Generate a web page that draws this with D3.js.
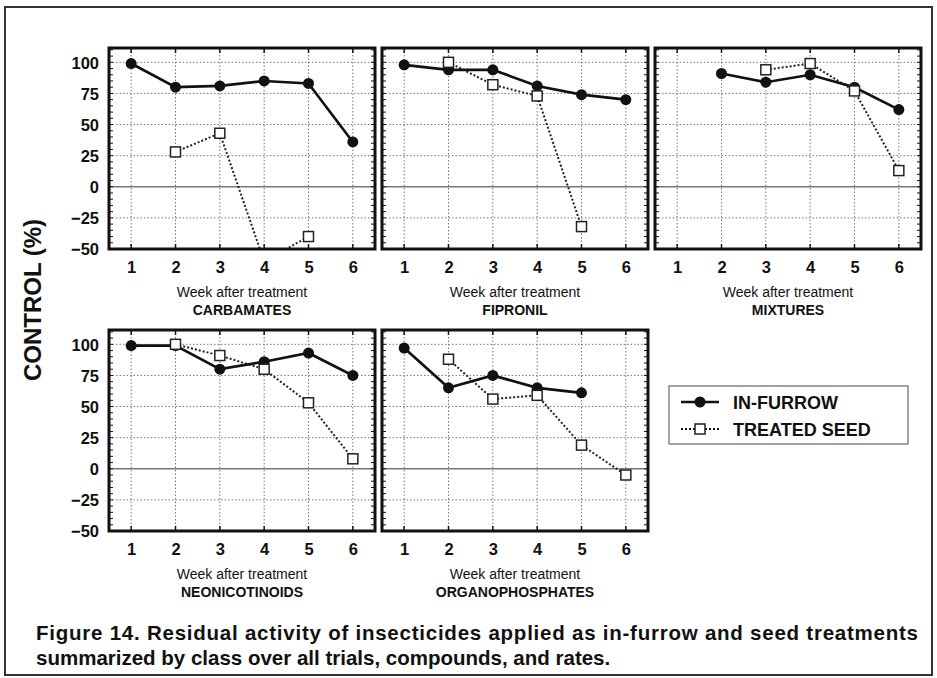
<!DOCTYPE html>
<html>
<head>
<meta charset="utf-8">
<script src="https://cdn.jsdelivr.net/npm/d3@7"></script>
<style>
  body { margin: 0; background: #fff; }
  svg { display: block; }
  text { font-family: "Liberation Sans", Arial, sans-serif; fill: #111; }
</style>
</head>
<body>
<div id="chart"></div>
<script>
// weeks after treatment and y ticks
const weeks = [1, 2, 3, 4, 5, 6];
const yTicks = [-50, -25, 0, 25, 50, 75, 100];
const classNames = ["CARBAMATES", "FIPRONIL", "MIXTURES", "NEONICOTINOIDS", "ORGANOPHOSPHATES"];

// control (%) per week, null = no data
const carbamatesFurrow = [99, 80, 81, 85, 83, 36];
const carbamatesSeed = [null, 28, 43, -60, -40, null];
const fipronilFurrow = [98, 94, 94, 81, 74, 70];
const fipronilSeed = [null, 100, 82, 73, -32, null];
const mixturesFurrow = [null, 91, 84, 90, 80, 62];
const mixturesSeed = [null, null, 94, 99, 77, 13];
const neonicFurrow = [99, 99, 80, 86, 93, 75];
const neonicSeed = [null, 100, 91, 80, 53, 8];
const organoFurrow = [97, 65, 75, 65, 61, null];
const organoSeed = [null, 88, 56, 59, 19, -5];

const legendLabels = ["IN-FURROW", "TREATED SEED"];

(function () {
    const W = 937, H = 678;
    const pw = 266, ph = 201;
    const colX = [109, 382, 655];
    const rowY = [48, 330];

    const panels = [
        { name: classNames[0], furrow: carbamatesFurrow, seed: carbamatesSeed, col: 0, row: 0 },
        { name: classNames[1], furrow: fipronilFurrow, seed: fipronilSeed, col: 1, row: 0 },
        { name: classNames[2], furrow: mixturesFurrow, seed: mixturesSeed, col: 2, row: 0 },
        { name: classNames[3], furrow: neonicFurrow, seed: neonicSeed, col: 0, row: 1 },
        { name: classNames[4], furrow: organoFurrow, seed: organoSeed, col: 1, row: 1 }
    ];

    const svg = d3.select("#chart").append("svg")
        .attr("width", W)
        .attr("height", H);

    // outer figure frame
    svg.append("rect")
        .attr("x", 5).attr("y", 7)
        .attr("width", 927).attr("height", 668)
        .attr("fill", "none")
        .attr("stroke", "#333")
        .attr("stroke-width", 2);

    const x = d3.scaleLinear().domain([0.5, 6.5]).range([0, pw]);
    const y = d3.scaleLinear().domain([-50, 111.5]).range([ph, 0]);

    const line = d3.line()
        .defined(d => d.v != null)
        .x(d => x(d.w))
        .y(d => y(d.v));

    panels.forEach((p, i) => {
        const g = svg.append("g")
            .attr("transform", `translate(${colX[p.col]},${rowY[p.row]})`);

        const clipId = "clip" + i;
        g.append("clipPath").attr("id", clipId)
            .append("rect").attr("width", pw).attr("height", ph);

        // dotted grid
        g.selectAll(".vgrid").data(weeks).enter().append("line")
            .attr("x1", d => x(d)).attr("x2", d => x(d))
            .attr("y1", 0).attr("y2", ph)
            .attr("stroke", "#777").attr("stroke-width", 1)
            .attr("stroke-dasharray", "1.5,2");
        g.selectAll(".hgrid").data(yTicks.filter(d => d !== 0 && d !== -50)).enter().append("line")
            .attr("x1", 0).attr("x2", pw)
            .attr("y1", d => y(d)).attr("y2", d => y(d))
            .attr("stroke", "#777").attr("stroke-width", 1)
            .attr("stroke-dasharray", "1.5,2");

        // zero line
        g.append("line")
            .attr("x1", 0).attr("x2", pw)
            .attr("y1", y(0)).attr("y2", y(0))
            .attr("stroke", "#777").attr("stroke-width", 1.6);

        // minor ticks on the frame
        const minor = d3.range(-50, 111, 5);
        g.selectAll(".mtl").data(minor).enter().append("line")
            .attr("x1", 0).attr("x2", 4)
            .attr("y1", d => y(d)).attr("y2", d => y(d))
            .attr("stroke", "#111").attr("stroke-width", 1);
        g.selectAll(".mtr").data(minor).enter().append("line")
            .attr("x1", pw - 4).attr("x2", pw)
            .attr("y1", d => y(d)).attr("y2", d => y(d))
            .attr("stroke", "#111").attr("stroke-width", 1);
        g.selectAll(".mtt").data(weeks).enter().append("line")
            .attr("x1", d => x(d)).attr("x2", d => x(d))
            .attr("y1", 0).attr("y2", 5)
            .attr("stroke", "#111").attr("stroke-width", 1.5);
        g.selectAll(".mtb").data(weeks).enter().append("line")
            .attr("x1", d => x(d)).attr("x2", d => x(d))
            .attr("y1", ph - 5).attr("y2", ph)
            .attr("stroke", "#111").attr("stroke-width", 1.5);

        const plot = g.append("g").attr("clip-path", `url(#${clipId})`);
        const furrow = weeks.map((w, j) => ({ w: w, v: p.furrow[j] }));
        const seed = weeks.map((w, j) => ({ w: w, v: p.seed[j] }));

        plot.append("path").datum(seed)
            .attr("d", line)
            .attr("fill", "none")
            .attr("stroke", "#222")
            .attr("stroke-width", 2)
            .attr("stroke-dasharray", "2,2");
        plot.append("path").datum(furrow)
            .attr("d", line)
            .attr("fill", "none")
            .attr("stroke", "#111")
            .attr("stroke-width", 2.7);

        plot.selectAll(".dot").data(furrow.filter(d => d.v != null)).enter().append("circle")
            .attr("cx", d => x(d.w)).attr("cy", d => y(d.v))
            .attr("r", 5.5)
            .attr("fill", "#111");
        plot.selectAll(".sq").data(seed.filter(d => d.v != null)).enter().append("rect")
            .attr("x", d => x(d.w) - 5).attr("y", d => y(d.v) - 5)
            .attr("width", 10).attr("height", 10)
            .attr("fill", "#fff")
            .attr("stroke", "#222")
            .attr("stroke-width", 1.5);

        // frame
        g.append("rect")
            .attr("width", pw).attr("height", ph)
            .attr("fill", "none")
            .attr("stroke", "#111")
            .attr("stroke-width", 3);

        // x axis labels
        const xAxis = d3.axisBottom(x).tickValues(weeks).tickSize(0).tickPadding(0).tickFormat(d3.format("d"));
        const xa = g.append("g").attr("transform", `translate(0,${ph})`).call(xAxis);
        xa.select(".domain").remove();
        xa.selectAll("text")
            .attr("y", 24).attr("dy", null)
            .style("font-size", "16.5px").style("font-weight", "bold")
            .style("font-family", '"Liberation Sans", Arial, sans-serif')
            .attr("fill", "#111");

        // y axis labels, first column only
        if (p.col === 0) {
            const yAxis = d3.axisLeft(y).tickValues(yTicks).tickSize(0).tickPadding(10);
            const ya = g.append("g").attr("class", "yax").call(yAxis);
            ya.select(".domain").remove();
            ya.selectAll("text")
                .attr("dy", "0.36em")
                .style("font-size", "16.5px").style("font-weight", "bold")
                .style("font-family", '"Liberation Sans", Arial, sans-serif')
                .attr("fill", "#111");
        }

        g.append("text")
            .attr("x", pw / 2).attr("y", ph + 48)
            .attr("text-anchor", "middle")
            .style("font-size", "14px")
            .attr("fill", "#222")
            .text("Week after treatment");
        g.append("text")
            .attr("x", pw / 2).attr("y", ph + 66)
            .attr("text-anchor", "middle")
            .style("font-size", "14px").style("font-weight", "bold")
            .text(p.name);
    });

    // y axis title
    svg.append("text")
        .attr("transform", "translate(41,300) rotate(-90)")
        .attr("text-anchor", "middle")
        .style("font-size", "24px").style("font-weight", "bold")
        .text("CONTROL (%)");

    // legend
    const lg = svg.append("g").attr("transform", "translate(669,386)");
    lg.append("rect")
        .attr("width", 239).attr("height", 58)
        .attr("fill", "#fff")
        .attr("stroke", "#666").attr("stroke-width", 1.2);
    const ly = d3.scalePoint().domain(legendLabels).range([16, 43]);
    legendLabels.forEach((lab, i) => {
        const yy = ly(lab);
        lg.append("line")
            .attr("x1", 12).attr("x2", 50)
            .attr("y1", yy).attr("y2", yy)
            .attr("stroke", "#111")
            .attr("stroke-width", i === 0 ? 2.5 : 2)
            .attr("stroke-dasharray", i === 0 ? null : "2,2");
        if (i === 0) {
            lg.append("circle").attr("cx", 31).attr("cy", yy).attr("r", 5.5).attr("fill", "#111");
        } else {
            lg.append("rect").attr("x", 26).attr("y", yy - 5).attr("width", 10).attr("height", 10)
                .attr("fill", "#fff").attr("stroke", "#222").attr("stroke-width", 1.5);
        }
        lg.append("text")
            .attr("x", 64).attr("y", yy + 6.5)
            .style("font-size", "18px").style("font-weight", "bold")
            .text(lab);
    });

    // caption, first line justified to the right margin
    svg.append("text")
        .attr("x", 36).attr("y", 640)
        .attr("textLength", 882).attr("lengthAdjust", "spacing")
        .style("font-size", "20.5px").style("font-weight", "bold")
        .attr("fill", "#222")
        .text("Figure 14. Residual activity of insecticides applied as in-furrow and seed treatments");
    svg.append("text")
        .attr("x", 36).attr("y", 665)
        .style("font-size", "20.5px").style("font-weight", "bold")
        .attr("fill", "#222")
        .text("summarized by class over all trials, compounds, and rates.");
})();
</script>
</body>
</html>
